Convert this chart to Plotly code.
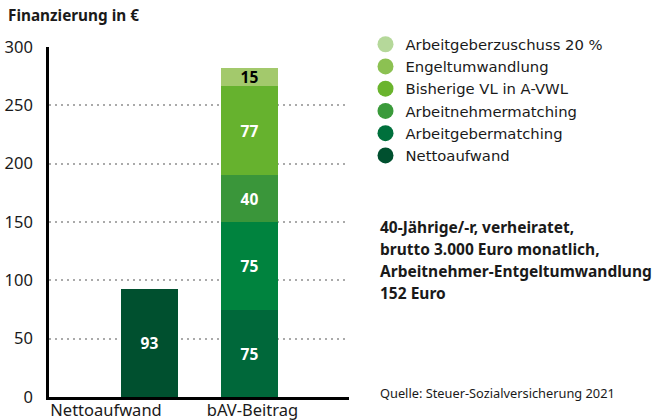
import plotly.graph_objects as go

# ---- data ----
categories = ["Nettoaufwand", "bAV-Beitrag"]
netto_values = [93, 0]
# bAV-Beitrag stack, bottom to top
bav_segment_names = ["Arbeitgebermatching", "Arbeitnehmermatching", "Bisherige VL in A-VWL",
                     "Engeltumwandlung", "Arbeitgeberzuschuss 20 %"]
bav_segment_values = [75, 75, 40, 77, 15]
legend_labels = ["Arbeitgeberzuschuss 20 %", "Engeltumwandlung", "Bisherige VL in A-VWL",
                 "Arbeitnehmermatching", "Arbeitgebermatching", "Nettoaufwand"]
y_ticks = [0, 50, 100, 150, 200, 250, 300]
note_lines = ["40-Jährige/-r, verheiratet,", "brutto 3.000 Euro monatlich,",
              "Arbeitnehmer-Entgeltumwandlung", "152 Euro"]
source_text = "Quelle: Steuer-Sozialversicherung 2021"
title_text = "Finanzierung in €"

# ---- styles ----
FONT = "Noto Sans"
LEGEND_FONT = "DejaVu Sans"
netto_color = "#00502F"
bav_colors = ["#00683A", "#00833E", "#3A963A", "#66B22E", "#A3C96C"]
bav_text_colors = ["white", "white", "white", "white", "black"]
legend_colors = ["#B5D89A", "#8CC152", "#6AB42D", "#3A9A3A", "#00703C", "#00502F"]

x_idx = list(range(len(categories)))
bar_w = 0.57

fig = go.Figure()

fig.add_trace(go.Bar(
    x=[x_idx[0]], y=[netto_values[0]], width=bar_w,
    marker=dict(color=netto_color, line=dict(width=0)),
    text=[str(netto_values[0])], textposition="inside", insidetextanchor="middle",
    textangle=0,
    textfont=dict(family=FONT, size=15.5, color="white", weight="bold"),
    constraintext="none", showlegend=False, hoverinfo="skip",
))

for name, val, col, tcol in zip(bav_segment_names, bav_segment_values, bav_colors, bav_text_colors):
    fig.add_trace(go.Bar(
        x=[x_idx[1]], y=[val], width=bar_w, name=name,
        marker=dict(color=col, line=dict(width=0)),
        text=[str(val)], textposition="inside", insidetextanchor="middle",
        textangle=0,
        textfont=dict(family=FONT, size=15.5, color=tcol, weight="bold"),
        constraintext="none", showlegend=False, hoverinfo="skip",
    ))

for lab, col in zip(legend_labels, legend_colors):
    fig.add_trace(go.Scatter(
        x=[None], y=[None], mode="markers", name=lab,
        marker=dict(symbol="circle", size=16, color=col),
        showlegend=True,
    ))

for i, line in enumerate(note_lines):
    fig.add_annotation(
        xref="paper", yref="paper", x=1.097, y=0.486 - i * 0.0625,
        xanchor="left", yanchor="middle", showarrow=False,
        text=line, font=dict(family=FONT, size=15.5, color="#1a1a1a", weight="bold"),
    )

fig.add_annotation(
    xref="paper", yref="paper", x=1.097, y=0.011,
    xanchor="left", yanchor="middle", showarrow=False,
    text=source_text, font=dict(family=FONT, size=12.8, color="#1a1a1a"),
)

fig.update_layout(
    width=656, height=420,
    margin=dict(l=49, r=307, t=47, b=23, autoexpand=False),
    paper_bgcolor="white", plot_bgcolor="white",
    barmode="stack",
    bargap=0,
    title=dict(text="<b>" + title_text + "</b>", x=8 / 656, xanchor="left",
               y=1 - 16 / 420, yanchor="middle",
               font=dict(family=FONT, size=15.3, color="#1a1a1a")),
    showlegend=True,
    legend=dict(x=1.055, y=1.054, xanchor="left", yanchor="top",
                font=dict(family=LEGEND_FONT, size=14.8, color="#1a1a1a"),
                traceorder="normal", itemsizing="trace", bgcolor="rgba(0,0,0,0)",
                tracegroupgap=0),
    xaxis=dict(range=[-1, 2], tickmode="array", tickvals=[-0.43, 1.035],
               ticktext=categories, showgrid=False, zeroline=False,
               showline=True, linecolor="black", linewidth=2.5,
               ticks="", automargin=False, ticklabelstandoff=-4,
               tickfont=dict(family=FONT, size=16.5, color="#1a1a1a")),
    yaxis=dict(range=[0, 300], tickmode="array", tickvals=y_ticks,
               showgrid=True, gridcolor="#aaaaaa", gridwidth=2, griddash="2px,4px",
               zeroline=False, showline=True, linecolor="black", linewidth=2.5,
               ticks="", ticklabelstandoff=10, automargin=False,
               tickfont=dict(family=FONT, size=16.5, color="#1a1a1a")),
)

fig.write_html("out.html", config={"displayModeBar": False},
               post_script="document.body.style.margin='0';")
